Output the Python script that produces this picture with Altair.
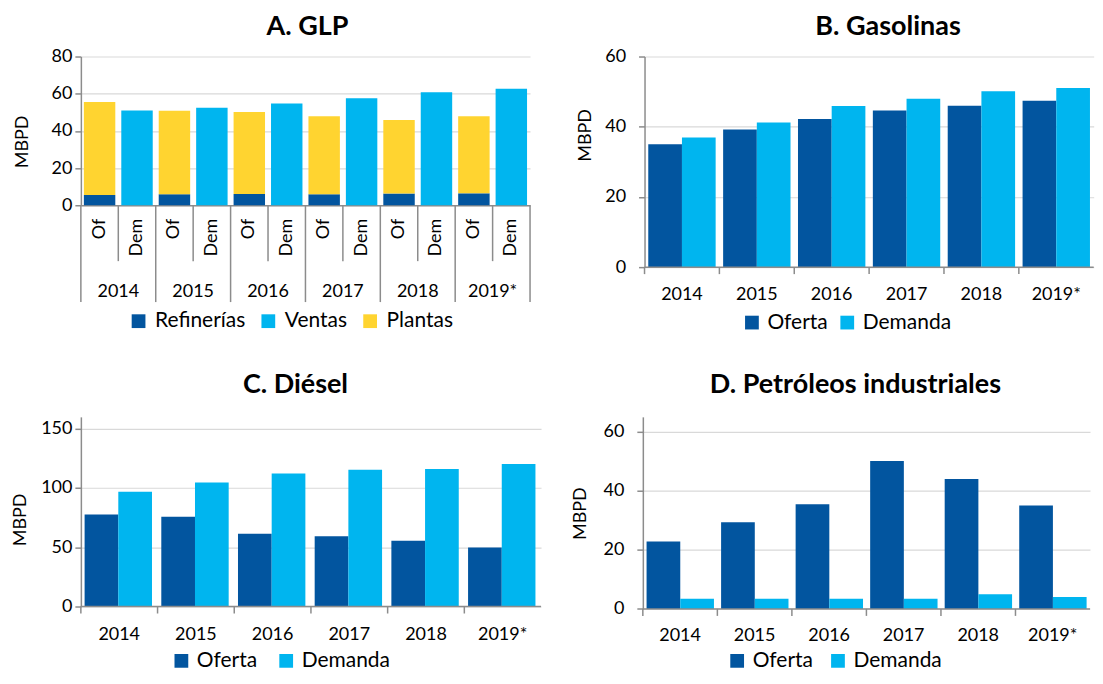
import altair as alt
import pandas as pd

# ---------------- data ----------------
years = ["2014", "2015", "2016", "2017", "2018", "2019*"]

# A. GLP (MBPD)
glp_refinerias = [5.5, 5.9, 6.1, 5.9, 6.3, 6.4]      # Oferta: refinerías
glp_plantas = [50.1, 44.9, 44.0, 42.0, 39.5, 41.5]   # Oferta: plantas
glp_ventas = [51.0, 52.4, 54.7, 57.6, 60.8, 62.6]    # Demanda: ventas
glp_series = ["Refinerías", "Ventas", "Plantas"]
glp_types = ["Of", "Dem"]

# B. Gasolinas
gas_oferta = [35.0, 39.2, 42.2, 44.6, 46.0, 47.4]
gas_demanda = [36.9, 41.2, 45.9, 48.0, 50.1, 51.0]

# C. Diésel
die_oferta = [77.7, 75.7, 61.3, 59.2, 55.5, 49.7]
die_demanda = [96.9, 104.7, 112.3, 115.4, 116.0, 120.2]

# D. Petróleos industriales
pi_oferta = [22.8, 29.3, 35.4, 50.1, 44.0, 35.0]
pi_demanda = [3.4, 3.4, 3.4, 3.4, 5.0, 4.0]

od_series = ["Oferta", "Demanda"]

# ---------------- style ----------------
DARK = "#02559F"
LIGHT = "#00B5EF"
YELLOW = "#FFD430"
AXIS_GRAY = "#8C8C8C"
GRID = "#D9D9D9"
FONT = "Lato"

# ---------------- panel A (GLP) ----------------
cats = [f"{y}|{t}" for y in years for t in glp_types]
rows = []
for i, y in enumerate(years):
    rows.append({"cat": f"{y}|Of", "serie": "Refinerías", "value": glp_refinerias[i], "ord": 0})
    rows.append({"cat": f"{y}|Of", "serie": "Plantas", "value": glp_plantas[i], "ord": 1})
    rows.append({"cat": f"{y}|Dem", "serie": "Ventas", "value": glp_ventas[i], "ord": 0})
df_a = pd.DataFrame(rows)
df_years_a = pd.DataFrame({"year": years, "cat": [f"{y}|Of" for y in years]})
df_dem_a = pd.DataFrame({"cat": [f"{y}|Dem" for y in years]})
df_last_a = pd.DataFrame({"cat": [f"{years[-1]}|Dem"]})

HA = 149
WA = 450

xa_scale = alt.Scale(domain=cats, paddingInner=0, paddingOuter=0)

bars_a = alt.Chart(df_a).mark_bar(width=alt.RelativeBandSize(0.84)).encode(
    x=alt.X("cat:N", scale=xa_scale,
            axis=alt.Axis(title=None, labelExpr="split(datum.value, '|')[1]",
                          labelAngle=-90, labelAlign="right", labelBaseline="middle",
                          ticks=False, labelPadding=13, grid=False)),
    y=alt.Y("value:Q", stack="zero", scale=alt.Scale(domain=[0, 80]),
            axis=alt.Axis(title="MBPD", values=[0, 20, 40, 60, 80], labelPadding=3,
                          titleX=-58, titleY=85, titleBaseline="middle", titleAlign="center")),
    color=alt.Color("serie:N", scale=alt.Scale(domain=glp_series, range=[DARK, LIGHT, YELLOW]),
                    legend=alt.Legend(title=None, orient="none", direction="horizontal",
                                      legendX=47.3, legendY=254.4, columnPadding=12,
                                      labelOffset=6, symbolSize=190)),
    order=alt.Order("ord:Q"),
)

short_rules = alt.Chart(df_dem_a).mark_rule(color=AXIS_GRAY, strokeWidth=1.5).encode(
    x=alt.X("cat:N", scale=xa_scale, bandPosition=0),
    y=alt.value(HA), y2=alt.value(HA + 56),
)
long_rules = alt.Chart(df_years_a).mark_rule(color=AXIS_GRAY, strokeWidth=1.5).encode(
    x=alt.X("cat:N", scale=xa_scale, bandPosition=0),
    y=alt.value(HA), y2=alt.value(HA + 97),
)
last_rule = alt.Chart(df_last_a).mark_rule(color=AXIS_GRAY, strokeWidth=1.5).encode(
    x=alt.X("cat:N", scale=xa_scale, bandPosition=1),
    y=alt.value(HA), y2=alt.value(HA + 97),
)
year_text = alt.Chart(df_years_a).mark_text(font=FONT, fontSize=18, baseline="middle",
                                             color="black").encode(
    x=alt.X("cat:N", scale=xa_scale, bandPosition=1),
    y=alt.value(HA + 87),
    text="year:N",
)

panel_a = alt.layer(bars_a, short_rules, long_rules, last_rule, year_text).properties(
    width=WA, height=HA,
    title=alt.TitleParams("A. GLP", offset=6.5, dx=2),
)


# ---------------- grouped panels ----------------
def grouped(title, oferta, demanda, dom_max, ax_max, ystep, view_w, h,
            title_off, title_dx, lab_pad, tx, ty, lx, ly, colpad, xlab_pad, own_domain=False):
    rows = []
    for i, y in enumerate(years):
        rows.append({"year": y, "serie": "Oferta", "value": oferta[i]})
        rows.append({"year": y, "serie": "Demanda", "value": demanda[i]})
    df = pd.DataFrame(rows)
    xs = alt.Scale(domain=years, paddingInner=0, paddingOuter=0)
    bars = alt.Chart(df).mark_bar().encode(
        x=alt.X("year:N", scale=xs,
                axis=alt.Axis(title=None, labelAngle=0, ticks=False, domain=False,
                              labelPadding=xlab_pad, labelBaseline="middle", grid=False)),
        xOffset=alt.XOffset("serie:N", scale=alt.Scale(domain=od_series, paddingInner=0,
                                                        paddingOuter=0.111)),
        y=alt.Y("value:Q", scale=alt.Scale(domain=[0, dom_max]),
                axis=alt.Axis(title="MBPD", values=list(range(0, ax_max + 1, ystep)),
                              labelPadding=lab_pad, titleX=tx, titleY=ty,
                              domain=not own_domain,
                              titleBaseline="middle", titleAlign="center")),
        color=alt.Color("serie:N", scale=alt.Scale(domain=od_series, range=[DARK, LIGHT]),
                        legend=alt.Legend(title=None, orient="none", direction="horizontal",
                                          legendX=lx, legendY=ly, columnPadding=colpad,
                                          labelOffset=5, symbolSize=190)),
    )
    base_line = alt.Chart(pd.DataFrame({"z": [0]})).mark_rule(
        color=AXIS_GRAY, strokeWidth=1.5).encode(y=alt.datum(0))
    ticks = alt.Chart(pd.DataFrame({"year": years})).mark_rule(
        color=AXIS_GRAY, strokeWidth=1.5).encode(
        x=alt.X("year:N", scale=xs, bandPosition=0),
        y=alt.value(h), y2=alt.value(h + 7),
    )
    layers = [bars, base_line, ticks]
    if own_domain:
        layers.append(alt.Chart(pd.DataFrame({"z": [0]})).mark_rule(
            color=AXIS_GRAY, strokeWidth=1.5).encode(
            x=alt.value(0), y=alt.datum(0), y2=alt.datum(ax_max)))
    return alt.layer(*layers).properties(
        width=view_w, height=h,
        title=alt.TitleParams(title, offset=title_off, dx=title_dx))


panel_b = grouped("B. Gasolinas", gas_oferta, gas_demanda, 60, 60, 20, 450, 211,
                  6.5, 19, 13, -59, 78.5, 97.1, 255.8, 8.5, 27.2)
panel_c = grouped("C. Diésel", die_oferta, die_demanda, 150, 150, 50, 461, 190,
                  18.3, -15.5, 3, -60, 102.7, 90.2, 233.7, 18, 28.5)
# D: plot area extended 11 px above the 60 line so that its top sits lower than C's
panel_d = grouped("D. Petróleos industriales", pi_oferta, pi_demanda, 63.78, 60, 20, 448, 192.4,
                  18.3, -11, 13, -62, 96.5, 84, 233.7, 14, 27)

top = alt.hconcat(panel_a, panel_b, spacing=45.7).resolve_scale(color="independent")
bottom = alt.hconcat(panel_c, panel_d, spacing=30).resolve_scale(color="independent")

chart = alt.vconcat(top, bottom, spacing=37).resolve_scale(color="independent").properties(
    padding={"left": 4, "top": 4, "right": 0, "bottom": 0}
).configure(
    font=FONT,
).configure_view(
    stroke=None,
).configure_axis(
    labelFont=FONT, labelFontSize=18, labelColor="#000000",
    titleFont=FONT, titleFontSize=18, titleFontWeight="normal", titleColor="#000000",
    domainColor=AXIS_GRAY, domainWidth=1.5, tickColor=AXIS_GRAY, tickWidth=1.5,
    gridColor=GRID, gridWidth=1.2,
).configure_axisY(
    tickSize=6,
).configure_legend(
    labelFont=FONT, labelFontSize=21, labelColor="#000000", padding=0,
    symbolType="square", symbolStrokeWidth=0,
).configure_title(
    font=FONT, fontSize=27, fontWeight="bold", color="#000000", anchor="middle",
)

chart.save("out.html", embed_options={"renderer": "svg", "actions": False})
